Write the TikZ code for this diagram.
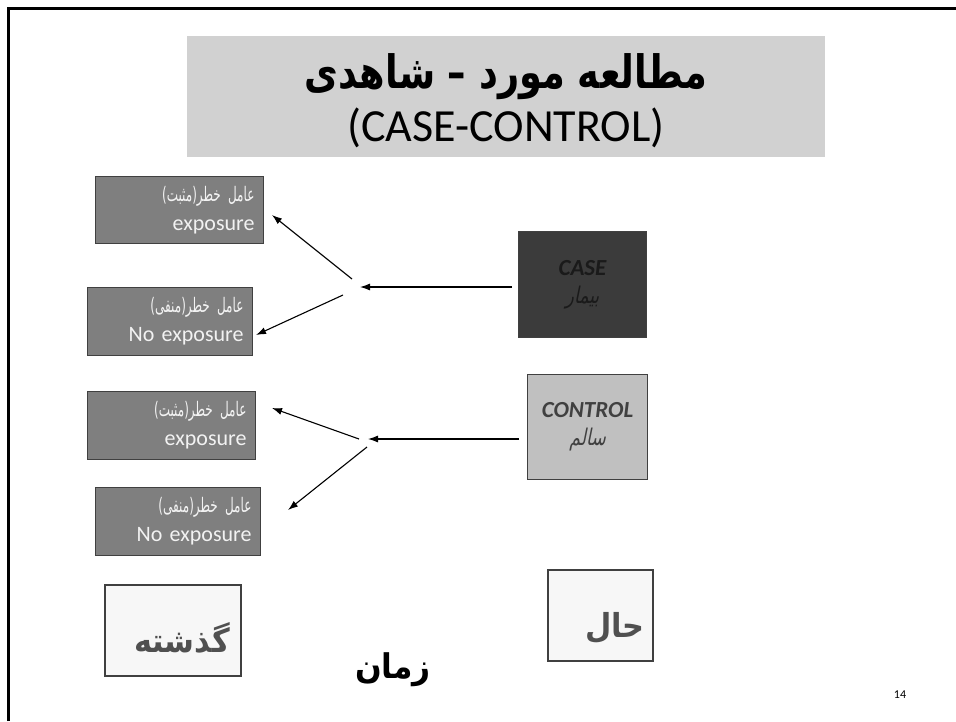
\documentclass[tikz,border=0pt]{standalone}
\usepackage{fontspec}
\setmainfont{Carlito}
\newfontfamily\fa[Script=Arabic]{DejaVu Sans}
\newfontfamily\fanarrow[Script=Arabic,FakeStretch=0.6]{DejaVu Sans}
\newfontfamily\faslant[Script=Arabic,FakeSlant=0.2,FakeStretch=0.75]{DejaVu Sans}
\newfontfamily\fatitle[Script=Arabic,FakeStretch=0.8]{DejaVu Sans Bold}
\newfontfamily\fabottom[Script=Arabic,FakeStretch=0.92]{DejaVu Sans Bold}
\TeXXeTstate=1
\usetikzlibrary{arrows.meta}
\definecolor{titlegray}{HTML}{D1D1D1}
\definecolor{boxgray}{HTML}{7F7F7F}
\definecolor{boxedge}{HTML}{404040}
\definecolor{boxtext}{HTML}{F2F2F2}
\definecolor{casefill}{HTML}{3B3B3B}
\definecolor{casetext}{HTML}{1A1A1A}
\definecolor{ctrlfill}{HTML}{C0C0C0}
\definecolor{ctrltext}{HTML}{404040}
\definecolor{timefill}{HTML}{F7F7F7}
\definecolor{timetext}{HTML}{505050}
\newcommand{\faline}[1]{\mbox{\fanarrow\fontsize{20}{29}\selectfont\beginR #1\endR}}
\tikzset{
  lbox/.style={draw=boxedge, line width=1pt, fill=boxgray, text=boxtext, align=right,
    inner xsep=9pt, inner ysep=0pt, anchor=north west,
    font=\fontsize{22}{29}\selectfont},
  arr/.style={-{Latex[length=10pt,width=7pt]}, line width=1.1pt},
  tbox/.style={draw=boxedge, line width=1.5pt, fill=timefill, anchor=north west},
  ttext/.style={text=timetext, font=\fabottom\fontsize{33}{38}\selectfont},
}
\begin{document}
\begin{tikzpicture}[x=1pt,y=-1pt]
\useasboundingbox (0,0) rectangle (956,721);
\draw[line width=3pt] (8,721) -- (8,8) -- (956,8);

% title
\node[fill=titlegray, minimum width=638, minimum height=121, anchor=north west, inner sep=0pt] (title) at (187,36) {};
\node (t1) at (506,77) {\fatitle\fontsize{46}{50}\selectfont\beginR مطالعه مورد – شاهدی\endR};
\node (t2) at (506,128) {\fontsize{46}{50}\selectfont (CASE-CONTROL)};

% left boxes
\node[lbox, text width=150, minimum height=67] (b1) at (95,176)
  {\faline{عامل خطر(مثبت)}\\exposure};
\node[lbox, text width=147, minimum height=68] (b2) at (87,287)
  {\faline{عامل خطر(منفی)}\\No exposure};
\node[lbox, text width=150, minimum height=68] (b3) at (87,391)
  {\faline{عامل خطر(مثبت)}\\exposure};
\node[lbox, text width=147, minimum height=68] (b4) at (95,487)
  {\faline{عامل خطر(منفی)}\\No exposure};

% right boxes
\node[draw=boxedge, line width=1pt, fill=casefill, text=casetext, minimum width=128, minimum height=106,
  anchor=north west, align=center, font=\fontsize{23}{28}\selectfont] (case) at (518,231)
  {{\bfseries\itshape CASE}\\{\faslant\fontsize{23}{28}\selectfont\beginR بیمار\endR}};
\node[draw=boxedge, line width=1pt, fill=ctrlfill, text=ctrltext, minimum width=120, minimum height=105,
  anchor=north west, align=center, font=\fontsize{23}{28}\selectfont] (ctrl) at (527,374)
  {{\bfseries\itshape CONTROL}\\{\faslant\fontsize{23}{28}\selectfont\beginR سالم\endR}};

% arrows
\coordinate (c1s) at (512,287);
\coordinate (c1e) at (360,287);
\coordinate (c1us) at (352,279);
\coordinate (c1ue) at (272,215);
\coordinate (c1ds) at (343,295);
\coordinate (c1de) at (256,335);
\coordinate (c2s) at (519,439);
\coordinate (c2e) at (368,439);
\coordinate (c2us) at (359,439);
\coordinate (c2ue) at (272,408);
\coordinate (c2ds) at (367,447);
\coordinate (c2de) at (288,510);
\draw[arr] (c1s) -- (c1e);
\draw[arr] (c1us) -- (c1ue);
\draw[arr] (c1ds) -- (c1de);
\draw[arr] (c2s) -- (c2e);
\draw[arr] (c2us) -- (c2ue);
\draw[arr] (c2ds) -- (c2de);

% time boxes
\node[tbox, minimum width=136, minimum height=91] (past) at (104,584) {};
\node[ttext] (pastt) at (182,638) {\beginR گذشته\endR};
\node[tbox, minimum width=105, minimum height=91] (now) at (547,569) {};
\node[ttext] (nowt) at (615,628) {\beginR حال\endR};
\node[font=\fabottom\fontsize{34}{38}\selectfont] (time) at (393,670) {\beginR زمان\endR};
\node[font=\fontsize{12}{14}\selectfont] (pg) at (900,695) {14};
\end{tikzpicture}
\end{document}
